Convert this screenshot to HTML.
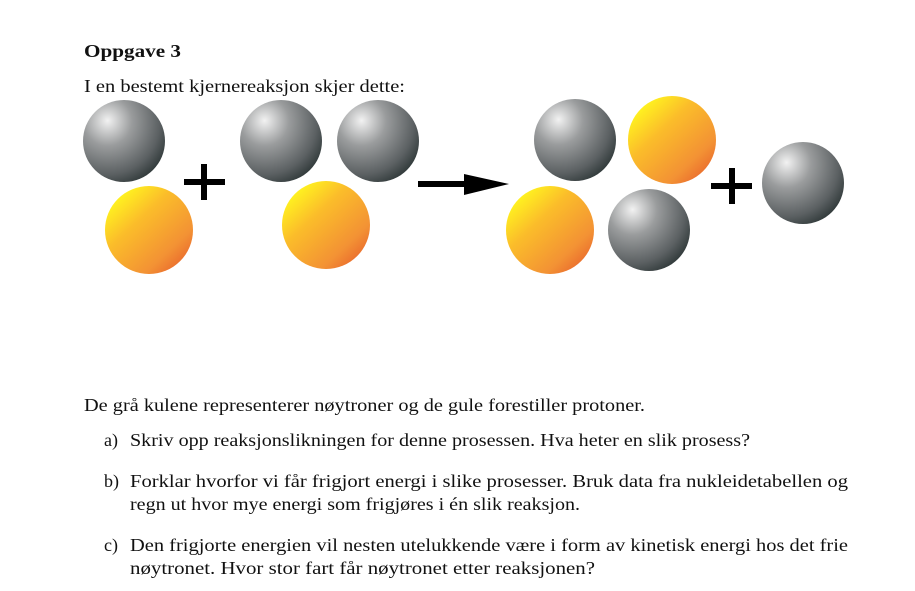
<!DOCTYPE html>
<html><head><meta charset="utf-8"><style>
html,body{margin:0;padding:0;background:#fff;width:915px;height:591px;overflow:hidden}
svg{display:block}
text{font-family:"Liberation Serif",serif;fill:#111}
</style></head><body>
<svg width="915" height="591" viewBox="0 0 915 591">
<defs>
<radialGradient id="g" cx="0.3" cy="0.28" r="0.85" fx="0.3" fy="0.25">
<stop offset="0" stop-color="#f2f2f2"/><stop offset="0.35" stop-color="#9a9c9d"/><stop offset="0.75" stop-color="#5b6062"/><stop offset="1" stop-color="#263030"/>
</radialGradient>
<linearGradient id="y" x1="0.15" y1="0.15" x2="0.9" y2="0.95">
<stop offset="0" stop-color="#fff020"/><stop offset="0.3" stop-color="#fbbd2a"/><stop offset="0.75" stop-color="#f39234"/><stop offset="1" stop-color="#e8622c"/>
</linearGradient>
</defs>
<text x="84" y="57" font-size="18" font-weight="bold" textLength="97" lengthAdjust="spacingAndGlyphs">Oppgave 3</text>
<text x="84" y="92" font-size="18" textLength="321" lengthAdjust="spacingAndGlyphs">I en bestemt kjernereaksjon skjer dette:</text>
<circle cx="124" cy="141" r="41" fill="url(#g)"/>
<circle cx="149" cy="230" r="44" fill="url(#y)"/>
<rect x="184" y="179" width="41" height="6" fill="#000"/><rect x="201" y="164" width="6" height="36" fill="#000"/>
<circle cx="281" cy="141" r="41" fill="url(#g)"/>
<circle cx="378" cy="141" r="41" fill="url(#g)"/>
<circle cx="326" cy="225" r="44" fill="url(#y)"/>
<rect x="418" y="181" width="50" height="6" fill="#000"/><polygon points="464,174 509,184 464,195" fill="#000"/>
<circle cx="575" cy="140" r="41" fill="url(#g)"/>
<circle cx="672" cy="140" r="44" fill="url(#y)"/>
<circle cx="550" cy="230" r="44" fill="url(#y)"/>
<circle cx="649" cy="230" r="41" fill="url(#g)"/>
<rect x="711" y="183" width="41" height="6" fill="#000"/><rect x="729" y="168" width="6" height="36" fill="#000"/>
<circle cx="803" cy="183" r="41" fill="url(#g)"/>
<g font-size="18">
<text x="84" y="411" textLength="561" lengthAdjust="spacingAndGlyphs">De grå kulene representerer nøytroner og de gule forestiller protoner.</text>
<text x="104" y="446">a)</text><text x="130" y="446" textLength="620" lengthAdjust="spacingAndGlyphs">Skriv opp reaksjonslikningen for denne prosessen. Hva heter en slik prosess?</text>
<text x="104" y="487">b)</text><text x="130" y="487" textLength="718" lengthAdjust="spacingAndGlyphs">Forklar hvorfor vi får frigjort energi i slike prosesser. Bruk data fra nukleidetabellen og</text>
<text x="130" y="510" textLength="450" lengthAdjust="spacingAndGlyphs">regn ut hvor mye energi som frigjøres i én slik reaksjon.</text>
<text x="104" y="551">c)</text><text x="130" y="551" textLength="718" lengthAdjust="spacingAndGlyphs">Den frigjorte energien vil nesten utelukkende være i form av kinetisk energi hos det frie</text>
<text x="130" y="574" textLength="465" lengthAdjust="spacingAndGlyphs">nøytronet. Hvor stor fart får nøytronet etter reaksjonen?</text>
</g>
</svg>
</body></html>
